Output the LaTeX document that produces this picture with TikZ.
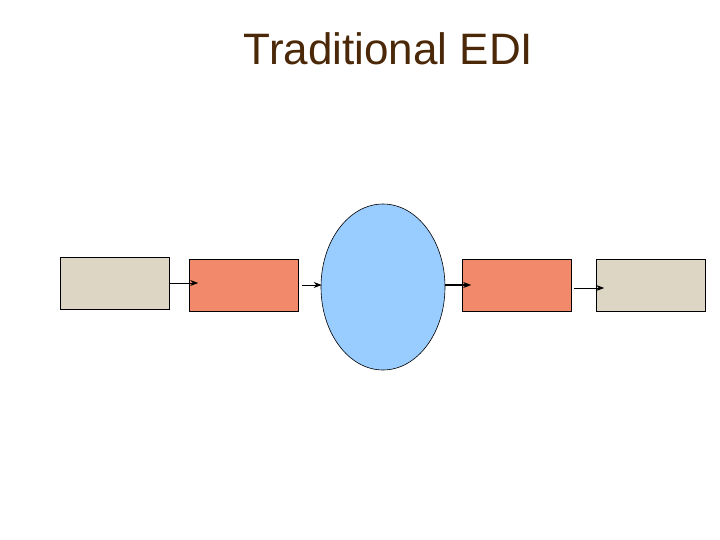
\documentclass[tikz,border=0pt]{standalone}
\usepackage{fontspec}
\setmainfont{Liberation Sans}
\usetikzlibrary{arrows.meta,shapes.geometric}
\definecolor{titlebrown}{HTML}{4A2808}
\definecolor{sysbeige}{HTML}{DDD6C4}
\definecolor{transsalmon}{HTML}{F1896A}
\definecolor{netblue}{HTML}{99CCFF}

\begin{document}
\begin{tikzpicture}[x=1pt, y=-1pt,
    box/.style={draw=black, line width=0.6pt, inner sep=0pt, minimum width=109pt, minimum height=52pt},
    flow/.style={-{Stealth[length=8pt,width=6pt]}, line width=0.9pt}]
  % Page
  \useasboundingbox (0,0) rectangle (720,540);

  % Title
  \node[text=titlebrown, font=\fontsize{44}{50}\selectfont, anchor=base] (title) at (388.5,65) {Traditional EDI};

  % Boxes and network
  \node[box, fill=sysbeige]    (sysA)   at (115,283) {};
  \node[box, fill=transsalmon] (transA) at (244,285) {};
  \node[draw=black, line width=0.6pt, fill=netblue, ellipse, inner sep=0pt,
        minimum width=124pt, minimum height=166pt] (van) at (383,287) {};
  \node[box, fill=transsalmon] (transB) at (517,285) {};
  \node[box, fill=sysbeige]    (sysB)   at (651,285) {};

  % Flow (kept level)
  \draw[flow, shorten >=-9pt] (sysA.east) -- (transA.west |- sysA.east);
  \draw[flow, shorten <=3pt, shorten >=-1pt] (transA.east) -- (van.west |- transA.east);
  \draw[flow, line width=1.5pt, shorten >=-9pt] (van.east |- transB.west) -- (transB.west);
  \draw[flow, shorten <=2pt, shorten >=-8pt] ([yshift=-3pt]transB.east) -- ([yshift=-3pt]sysB.west);
\end{tikzpicture}
\end{document}
